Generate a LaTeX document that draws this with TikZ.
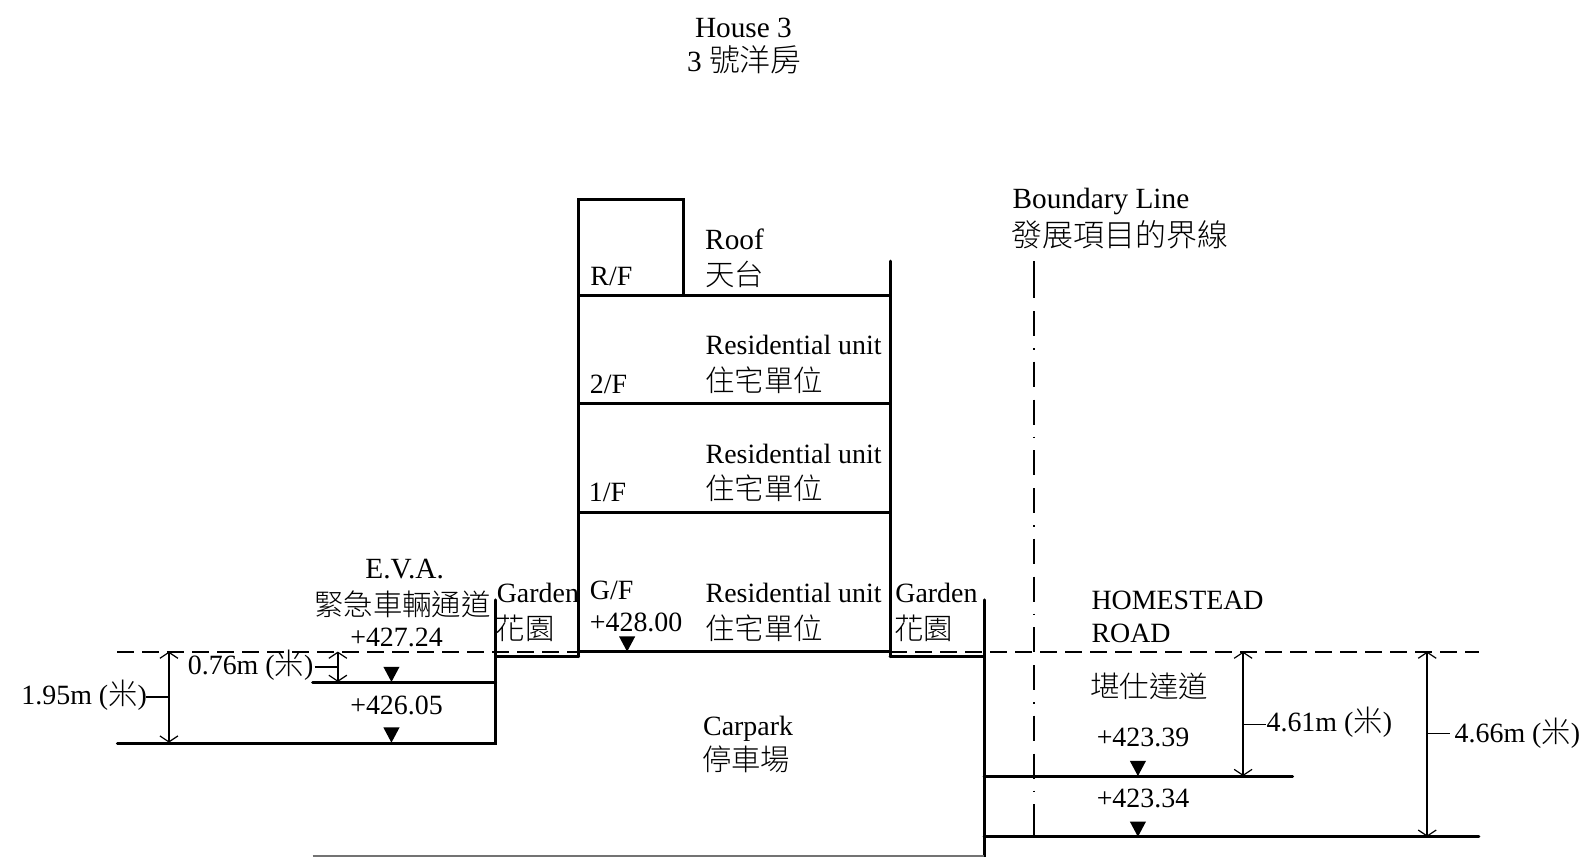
\documentclass[tikz,border=0pt]{standalone}
\usepackage{fontspec}
\usetikzlibrary{arrows.meta}
\setmainfont{Liberation Serif}
\newfontfamily\cjk{Noto Sans CJK TC Light}
\newcommand{\zh}[1]{{\cjk\fontsize{29.4}{32}\selectfont #1}}
\newcommand{\zhb}[1]{{\cjk\fontsize{30.9}{32}\selectfont #1}}
\tikzset{
  wall/.style={line width=3pt,line cap=round,line join=miter},
  thinwall/.style={line width=1.2pt,black!55},
  datum/.style={line width=1.9pt,dash pattern=on 17pt off 8pt},
  axis/.style={line width=1.8pt,dash pattern=on 37pt off 13pt on 25pt off 12pt on 1.5pt off 12pt on 25pt off 13pt on 25pt off 12pt on 1.5pt off 12pt on 25pt off 13pt on 25pt off 12pt on 1.5pt off 12pt on 25pt off 13pt on 25pt off 12pt on 1.5pt off 12pt on 25pt off 13pt on 25pt off 12pt on 1.5pt off 12pt on 25pt off 13pt on 25pt off 12pt on 1.5pt off 12pt on 40pt off 40pt},
  dimline/.style={line width=1.5pt,{Straight Barb[width=18pt,length=6pt,line width=1.2pt]}-{Straight Barb[width=18pt,length=6pt,line width=1.2pt]}},
  tick/.style={line width=1.6pt},
  lvl/.style={fill=black,draw=none},
  lbl/.style={inner sep=0pt,anchor=mid west,font=\fontsize{27.9}{30}\selectfont},
  cl/.style={inner sep=0pt,anchor=mid,font=\fontsize{27.9}{30}\selectfont},
  big/.style={font=\fontsize{29.3}{32}\selectfont},
}
\begin{document}
\begin{tikzpicture}[x=1.0115pt,y=-1.0118pt]
\useasboundingbox (0,0) rectangle (1568,847);
% datum
\draw[datum] (116,644) -- (572,644);
\draw[datum] (880,644) -- (1462,644);
% boundary axis
\draw[axis] (1022,258) -- (1022,827);
% building
\draw[wall] (572,649) -- (572,197) -- (676,197) -- (676,292);
\draw[wall] (880,258) -- (880,649);
\draw[wall] (572,292) -- (880,292);
\draw[wall] (572,399) -- (880,399);
\draw[wall] (572,506.5) -- (880,506.5);
\draw[wall] (572,644) -- (880,644);
% left ground
\draw[wall] (572,649) -- (490,649);
\draw[wall] (490,593) -- (490,734.5) -- (116,734.5);
\draw[wall] (490,674.5) -- (309,674.5);
% right ground
\draw[wall] (880,649) -- (973,649);
\draw[wall] (973,593) -- (973,847);
\draw[wall] (973,767) -- (1278,767);
\draw[wall] (973,827) -- (1462,827);
\draw[thinwall] (309,846) -- (973,846);
% level markers
\foreach \px/\py in {387/674,387/734,620/644,1125/767,1125/827}
  \fill[lvl] (\px-8,\py-15) -- (\px+8,\py-15) -- (\px,\py) -- cycle;
% dimensions
\draw[dimline] (167,644) -- (167,734);
\draw[dimline] (334,644) -- (334,674);
\draw[dimline] (1229,644) -- (1229,767);
\draw[dimline] (1411,644) -- (1411,827);
\draw[tick] (144,689) -- (167,689);
\draw[tick] (311,659) -- (334,659);
\draw[tick] (1229,716) -- (1252,716);
\draw[tick] (1411,725) -- (1434,725);
% text
\node[cl,big] (house) at (735,34.5) {House 3};
\node[cl,big] (housezh) at (736,68) {3 \zhb{號洋房}};
\node[lbl,big] (bl) at (1001,203.5) {Boundary Line};
\node[lbl] (blzh) at (1000,241) {\zhb{發展項目的界線}};
\node[lbl,big] (roof) at (697,244.5) {Roof};
\node[lbl] (roofzh) at (697,280) {\zh{天台}};
\node[lbl] (rf) at (583.5,279.5) {R/F};
\node[lbl] (f2) at (583,386.5) {2/F};
\node[lbl] (f1) at (582,493.5) {1/F};
\node[lbl] (gf) at (583,590.5) {G/F};
\node[lbl] (gl) at (583,621.5) {+428.00};
\node[lbl] (r2) at (697.5,348.5) {Residential unit};
\node[lbl] (r2zh) at (697,384.5) {\zh{住宅單位}};
\node[lbl] (r1) at (697.5,455.5) {Residential unit};
\node[lbl] (r1zh) at (697,491.5) {\zh{住宅單位}};
\node[lbl] (r0) at (697.5,593.5) {Residential unit};
\node[lbl] (r0zh) at (697,629.5) {\zh{住宅單位}};
\node[lbl] (gdl) at (491,593.5) {Garden};
\node[lbl] (gdlzh) at (490,629.5) {\zh{花園}};
\node[lbl] (gdr) at (885,593.5) {Garden};
\node[lbl] (gdrzh) at (884,629.5) {\zh{花園}};
\node[cl,big] (eva) at (400,569.5) {E.V.A.};
\node[cl] (evazh) at (398,606.5) {\zh{緊急車輛通道}};
\node[cl] (l1) at (392,636.5) {+427.24};
\node[cl] (l2) at (392,703.5) {+426.05};
\node[inner sep=0pt,anchor=mid east,font=\fontsize{27.9}{30}\selectfont] (d076) at (310,664) {0.76m (\zh{米})};
\node[lbl] (d195) at (21,694.5) {1.95m (\zh{米})};
\node[lbl] (hs) at (1079,600.5) {HOMESTEAD};
\node[lbl] (rd) at (1079,632.5) {ROAD};
\node[lbl] (hszh) at (1078,687.5) {\zh{堪仕達道}};
\node[cl] (l3) at (1130,735.5) {+423.39};
\node[cl] (l4) at (1130,795.5) {+423.34};
\node[lbl] (d461) at (1252,720.5) {4.61m (\zh{米})};
\node[lbl] (d466) at (1438,731.5) {4.66m (\zh{米})};
\node[lbl] (cp) at (695,724.5) {Carpark};
\node[lbl] (cpzh) at (694,759.5) {\zh{停車場}};
\end{tikzpicture}
\end{document}
